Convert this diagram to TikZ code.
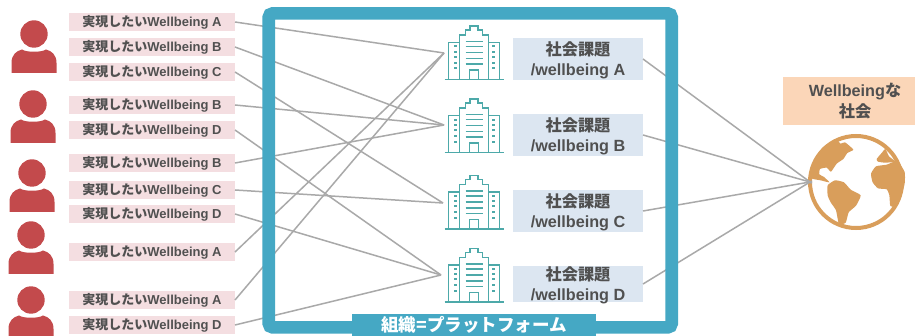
\documentclass[tikz,border=0pt]{standalone}
\usepackage{fontspec}
\usepackage{tikz}
\setmainfont{Liberation Sans}
\newfontfamily\jpfont{Noto Sans CJK JP}
\definecolor{wishpink}{HTML}{F4DEE1}
\definecolor{issueblue}{HTML}{DCE6F1}
\definecolor{societypeach}{HTML}{FBD6B8}
\definecolor{personred}{HTML}{C34A4C}
\definecolor{framecyan}{HTML}{45A8C4}
\definecolor{towerteal}{HTML}{4DA9A9}
\definecolor{earthorange}{HTML}{D99E5B}
\definecolor{linkgray}{HTML}{A9A9A9}
\definecolor{textgray}{HTML}{505050}
\newcommand{\wish}[1]{{\jpfont 実現したい}Wellbeing #1}
\newcommand{\issue}[1]{\rule{0pt}{13pt}\smash{\jpfont 社会課題}\\\smash{/wellbeing #1}}
\tikzset{
    person/.pic={
        \fill[personred] (0,0) circle (13.7);
        \fill[personred] (-22.5,39) -- (-22.5,29) .. controls (-22.5,21) and (-18,17) .. (-12,15.5) .. controls (-8,18.5) and (8,18.5) .. (12,15.5) .. controls (18,17) and (22.5,21) .. (22.5,29) -- (22.5,39) -- cycle;
    },
    tower/.pic={
        \draw[towerteal, line width=1.6pt] (-29.5,0) -- (29.5,0);
        \draw[towerteal, line width=1.6pt] (-14.5,0) -- (-14.5,-44.5) -- (-8.5,-44.5) -- (-8.5,-49.5) -- (-4,-49.5) -- (-4,-53.5) -- (4,-53.5) -- (4,-49.5) -- (8.5,-49.5) -- (8.5,-44.5) -- (14.5,-44.5) -- (14.5,0);
        \draw[towerteal, line width=1.6pt] (-14.5,-37) -- (-25.5,-37) -- (-25.5,0) (14.5,-37) -- (25.5,-37) -- (25.5,0);
        \draw[towerteal, line width=1.6pt] (-4.5,0) -- (-4.5,-9.5) -- (4.5,-9.5) -- (4.5,0);
        \foreach \stripe in {-38,-33,-27,-21,-15.5}
            \draw[towerteal, line width=1.6pt] (-8.5,\stripe) -- (8.5,\stripe);
        \foreach \window in {-33,-27.5,-22.5,-16.5,-11} {
            \fill[towerteal] (-20.5,\window-1) rectangle (-17.5,\window+1);
            \fill[towerteal] (17.5,\window-1) rectangle (20.5,\window+1);
        }
    },
    land/.pic={
        \begin{scope}[scale=1/3, shift={(-168,-155)}]
            % Americas
            \fill[earthorange] plot[smooth cycle, tension=0.3] coordinates {(32,142) (42,92) (70,50) (106,28) (122,40) (135,36) (160,58) (142,68) (130,86) (110,100) (93,124) (80,112) (60,116) (58,132) (72,140) (88,156) (62,150)};
            \fill[earthorange] plot[smooth cycle, tension=0.3] coordinates {(83,165) (105,150) (132,156) (152,178) (182,195) (168,226) (146,246) (137,277) (117,282) (108,240) (92,216) (83,195)};
            % Africa and Europe
            \fill[earthorange] plot[smooth cycle, tension=0.3] coordinates {(213,130) (228,108) (260,103) (292,92) (314,125) (314,160) (304,195) (287,228) (271,227) (268,195) (260,177) (234,174) (218,156)};
            \fill[earthorange] plot[smooth cycle, tension=0.3] coordinates {(230,86) (245,68) (256,56) (267,78) (286,94) (255,97) (234,94)};
        \end{scope}
    }
}
\begin{document}
\begin{tikzpicture}[
        x=1pt, y=-1pt,
        every node/.style={font=\bfseries, text=textgray, inner sep=0pt, outer sep=0pt},
        wishbox/.style={rectangle, fill=wishpink, minimum width=166pt, minimum height=17.5pt, font=\bfseries\fontsize{13}{15}\selectfont},
        issuebox/.style={rectangle, fill=issueblue, minimum width=130pt, align=center, font=\bfseries\fontsize{16.2}{20.5}\selectfont},
        societybox/.style={rectangle, fill=societypeach, minimum width=144pt, minimum height=48pt, align=center, font=\bfseries\fontsize{16.2}{21}\selectfont},
        link/.style={draw=linkgray, line width=1.5pt}
    ]
        \clip (0,0) rectangle (915,336);
        \fill[white] (0,0) rectangle (915,336);
        % Persons
        \pic at (34,34) {person};
        \pic at (33,104) {person};
        \pic at (32,173) {person};
        \pic at (31,235) {person};
        \pic at (31,300) {person};
        % Wishes
        \node[wishbox] (wish1) at (152,22) {\wish{A}};
        \node[wishbox] (wish2) at (152,47) {\wish{B}};
        \node[wishbox] (wish3) at (152,72) {\wish{C}};
        \node[wishbox] (wish4) at (152,105) {\wish{B}};
        \node[wishbox] (wish5) at (152,130) {\wish{D}};
        \node[wishbox] (wish6) at (152,163) {\wish{B}};
        \node[wishbox] (wish7) at (152,190) {\wish{C}};
        \node[wishbox] (wish8) at (152,214) {\wish{D}};
        \node[wishbox] (wish9) at (152,252) {\wish{A}};
        \node[wishbox] (wish10) at (152,300) {\wish{A}};
        \node[wishbox] (wish11) at (152,325) {\wish{D}};
        % Buildings
        \pic at (474,79.5) {tower};
        \pic at (474,152.7) {tower};
        \pic at (474,229) {tower};
        \pic at (474,302) {tower};
        \coordinate (towerA) at (444,53);
        \coordinate (towerB) at (444,125);
        \coordinate (towerC) at (443,203);
        \coordinate (towerD) at (441,275);
        % Social issues
        \node[issuebox, minimum height=42pt] (issueA) at (578,59) {\issue{A}};
        \node[issuebox, minimum height=42pt] (issueB) at (578,135) {\issue{B}};
        \node[issuebox, minimum height=42pt] (issueC) at (578,211) {\issue{C}};
        \node[issuebox, minimum height=36pt] (issueD) at (578,284) {\issue{D}};
        % Society
        \node[societybox] (society) at (855,101) {Wellbeing{\jpfont な}\\{\jpfont 社会}};
        \node[circle, draw=earthorange, line width=4pt, minimum size=92pt] (globe) at (856,182) {};
        \pic at (856,182) {land};
        % Edges: wish to building
        \draw[link] (wish1.east) -- (towerA);
        \draw[link] (wish2.east) -- (towerB);
        \draw[link] (wish3.east) -- (towerC);
        \draw[link] (wish4.east) -- (towerB);
        \draw[link] (wish5.east) -- (towerD);
        \draw[link] (wish6.east) -- (towerB);
        \draw[link] (wish7.east) -- (towerC);
        \draw[link] (wish8.east) -- (towerD);
        \draw[link] (wish9.east) -- (towerA);
        \draw[link] (wish10.east) -- (towerA);
        \draw[link] (wish11.east) -- (towerD);
        % Edges: issue to society
        \draw[link, shorten >=-2pt] (issueA.east) -- (globe.west);
        \draw[link, shorten >=-2pt] (issueB.east) -- (globe.west);
        \draw[link, shorten >=-2pt] (issueC.east) -- (globe.west);
        \draw[link, shorten >=-2pt] (issueD.east) -- (globe.west);
        % Platform frame
        \node[rectangle, draw=framecyan, line width=12.6pt, rounded corners=4pt, minimum width=403pt, minimum height=314pt] (platform) at (470.2,170.4) {};
        \node[rectangle, fill=framecyan, text=white, minimum width=244pt, minimum height=22pt, font=\jpfont\bfseries\fontsize{17.5}{20}\selectfont] (platformname) at (474,325) {組織=プラットフォーム};
    \end{tikzpicture}
\end{document}
